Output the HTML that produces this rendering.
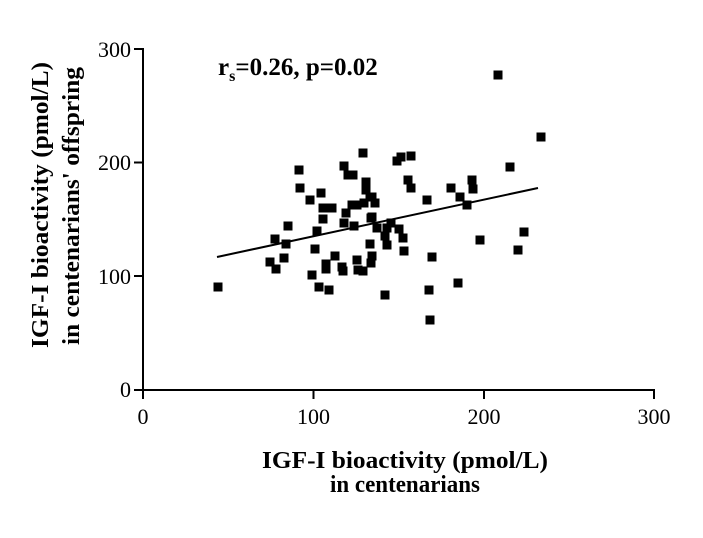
<!DOCTYPE html>
<html><head><meta charset="utf-8"><style>body{margin:0;background:#fff}svg{display:block}</style></head>
<body>
<svg width="703" height="538" viewBox="0 0 703 538" xmlns="http://www.w3.org/2000/svg" font-family="Liberation Serif, serif">
<g stroke="#000" stroke-width="2" fill="none">
<line x1="143" y1="48" x2="143" y2="391"/>
<line x1="134" y1="49" x2="143" y2="49"/>
<line x1="134" y1="162.5" x2="143" y2="162.5"/>
<line x1="134" y1="276" x2="143" y2="276"/>
<line x1="134" y1="390" x2="143" y2="390"/>
<line x1="142" y1="390" x2="655" y2="390"/>
<line x1="143" y1="390" x2="143" y2="399"/>
<line x1="313.5" y1="390" x2="313.5" y2="399"/>
<line x1="484" y1="390" x2="484" y2="399"/>
<line x1="654" y1="390" x2="654" y2="399"/>
<line x1="217" y1="257" x2="538" y2="188"/>
</g>
<g font-size="22" text-anchor="end">
<text x="131" y="57">300</text><text x="131" y="170">200</text><text x="131" y="284">100</text><text x="131" y="397">0</text>
</g>
<g font-size="22" text-anchor="middle">
<text x="143" y="424">0</text><text x="313.5" y="424">100</text><text x="484" y="424">200</text><text x="654" y="424">300</text>
</g>
<g font-size="24" font-weight="bold" text-anchor="middle">
<text x="405" y="468" textLength="286" lengthAdjust="spacingAndGlyphs">IGF-I bioactivity (pmol/L)</text>
<text x="405" y="492" textLength="150" lengthAdjust="spacingAndGlyphs">in centenarians</text>
<text transform="translate(48,205) rotate(-90)" textLength="286" lengthAdjust="spacingAndGlyphs">IGF-I bioactivity (pmol/L)</text>
<text transform="translate(79,206) rotate(-90)" textLength="278" lengthAdjust="spacingAndGlyphs">in centenarians' offspring</text>
</g>
<text x="218" y="75" font-size="25" font-weight="bold">r<tspan font-size="16" dy="6">s</tspan><tspan dy="-6">=0.26, p=0.02</tspan></text>
<g fill="#000">
<rect x="213.5" y="282.5" width="9" height="9"/>
<rect x="294.5" y="165.5" width="9" height="9"/>
<rect x="295.5" y="183.5" width="9" height="9"/>
<rect x="339.5" y="161.5" width="9" height="9"/>
<rect x="343.5" y="170.5" width="9" height="9"/>
<rect x="348.5" y="170.5" width="9" height="9"/>
<rect x="358.5" y="148.5" width="9" height="9"/>
<rect x="361.5" y="177.5" width="9" height="9"/>
<rect x="361.5" y="185.5" width="9" height="9"/>
<rect x="316.5" y="188.5" width="9" height="9"/>
<rect x="305.5" y="195.5" width="9" height="9"/>
<rect x="318.5" y="203.5" width="9" height="9"/>
<rect x="327.5" y="203.5" width="9" height="9"/>
<rect x="341.5" y="208.5" width="9" height="9"/>
<rect x="347.5" y="200.5" width="9" height="9"/>
<rect x="352.5" y="200.5" width="9" height="9"/>
<rect x="359.5" y="198.5" width="9" height="9"/>
<rect x="365.5" y="192.5" width="9" height="9"/>
<rect x="370.5" y="198.5" width="9" height="9"/>
<rect x="318.5" y="214.5" width="9" height="9"/>
<rect x="339.5" y="218.5" width="9" height="9"/>
<rect x="349.5" y="221.5" width="9" height="9"/>
<rect x="366.5" y="213.5" width="9" height="9"/>
<rect x="372.5" y="223.5" width="9" height="9"/>
<rect x="283.5" y="221.5" width="9" height="9"/>
<rect x="270.5" y="234.5" width="9" height="9"/>
<rect x="281.5" y="239.5" width="9" height="9"/>
<rect x="312.5" y="226.5" width="9" height="9"/>
<rect x="310.5" y="244.5" width="9" height="9"/>
<rect x="365.5" y="239.5" width="9" height="9"/>
<rect x="367.5" y="251.5" width="9" height="9"/>
<rect x="366.5" y="258.5" width="9" height="9"/>
<rect x="330.5" y="251.5" width="9" height="9"/>
<rect x="352.5" y="255.5" width="9" height="9"/>
<rect x="265.5" y="257.5" width="9" height="9"/>
<rect x="279.5" y="253.5" width="9" height="9"/>
<rect x="271.5" y="264.5" width="9" height="9"/>
<rect x="321.5" y="259.5" width="9" height="9"/>
<rect x="321.5" y="264.5" width="9" height="9"/>
<rect x="337.5" y="262.5" width="9" height="9"/>
<rect x="338.5" y="266.5" width="9" height="9"/>
<rect x="353.5" y="265.5" width="9" height="9"/>
<rect x="358.5" y="266.5" width="9" height="9"/>
<rect x="307.5" y="270.5" width="9" height="9"/>
<rect x="314.5" y="282.5" width="9" height="9"/>
<rect x="324.5" y="285.5" width="9" height="9"/>
<rect x="493.5" y="70.5" width="9" height="9"/>
<rect x="536.5" y="132.5" width="9" height="9"/>
<rect x="505.5" y="162.5" width="9" height="9"/>
<rect x="392.5" y="156.5" width="9" height="9"/>
<rect x="396.5" y="152.5" width="9" height="9"/>
<rect x="406.5" y="151.5" width="9" height="9"/>
<rect x="403.5" y="175.5" width="9" height="9"/>
<rect x="406.5" y="183.5" width="9" height="9"/>
<rect x="422.5" y="195.5" width="9" height="9"/>
<rect x="446.5" y="183.5" width="9" height="9"/>
<rect x="467.5" y="175.5" width="9" height="9"/>
<rect x="468.5" y="184.5" width="9" height="9"/>
<rect x="455.5" y="192.5" width="9" height="9"/>
<rect x="462.5" y="200.5" width="9" height="9"/>
<rect x="367.5" y="192.5" width="9" height="9"/>
<rect x="367.5" y="212.5" width="9" height="9"/>
<rect x="386.5" y="218.5" width="9" height="9"/>
<rect x="382.5" y="223.5" width="9" height="9"/>
<rect x="394.5" y="224.5" width="9" height="9"/>
<rect x="380.5" y="231.5" width="9" height="9"/>
<rect x="398.5" y="233.5" width="9" height="9"/>
<rect x="382.5" y="240.5" width="9" height="9"/>
<rect x="399.5" y="246.5" width="9" height="9"/>
<rect x="427.5" y="252.5" width="9" height="9"/>
<rect x="475.5" y="235.5" width="9" height="9"/>
<rect x="519.5" y="227.5" width="9" height="9"/>
<rect x="513.5" y="245.5" width="9" height="9"/>
<rect x="453.5" y="278.5" width="9" height="9"/>
<rect x="424.5" y="285.5" width="9" height="9"/>
<rect x="380.5" y="290.5" width="9" height="9"/>
<rect x="425.5" y="315.5" width="9" height="9"/>
</g>
</svg>
</body></html>
